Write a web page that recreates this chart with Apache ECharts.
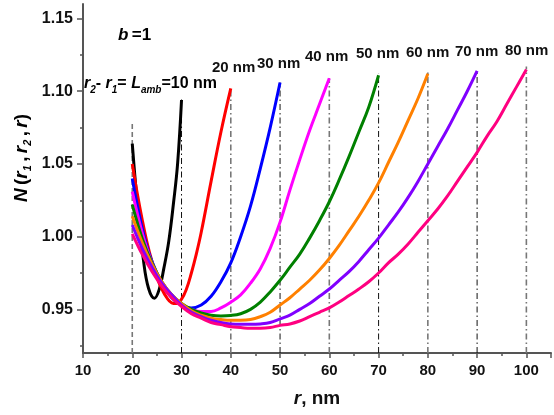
<!DOCTYPE html>
<html>
<head>
<meta charset="utf-8">
<script src="https://cdn.jsdelivr.net/npm/echarts@6/dist/echarts.min.js"></script>
<style>
  html, body { margin: 0; padding: 0; background: #fff; }
  #main { width: 554px; height: 415px; }
</style>
</head>
<body>
<div id="main"></div>
<script>
// r values (nm) and N(r1, r2, r), one pair per L_amb
var r10 = [20, 21, 22.3, 23.3, 24.5, 25.5, 26.4, 27.4, 28.4, 29.2, 30];
var n10 = [1.064, 1.024, 0.983, 0.9645, 0.9576, 0.964, 0.978, 0.9966, 1.024, 1.050, 1.094];

var r20 = [20, 21, 22, 23, 24, 25, 26, 27, 28, 29, 30, 31, 32, 33, 34, 36, 38, 40];
var n20 = [1.050, 1.030, 1.012, 0.996, 0.983, 0.972, 0.964, 0.958, 0.9545, 0.954, 0.957, 0.964, 0.975, 0.988, 1.003, 1.038, 1.072, 1.102];

var r30 = [20, 21, 22, 23, 24, 26, 28, 30, 32, 34, 36, 38, 40, 42, 44, 46, 48, 50];
var n30 = [1.040, 1.022, 1.006, 0.993, 0.983, 0.968, 0.958, 0.953, 0.951, 0.953, 0.959, 0.969, 0.982, 1.000, 1.021, 1.047, 1.075, 1.106];

var r40 = [20, 22, 24, 26, 28, 30, 32, 34, 36, 38, 40, 42, 44, 46, 48, 50, 52, 54, 56, 58, 60];
var n40 = [1.031, 1.003, 0.982, 0.968, 0.959, 0.953, 0.950, 0.9485, 0.9485, 0.951, 0.955, 0.960, 0.968, 0.978, 0.992, 1.010, 1.032, 1.053, 1.073, 1.091, 1.109];

var r50 = [20, 22, 24, 26, 28, 30, 32, 34, 36, 38, 40, 42, 44, 46, 48, 50, 52, 54, 56, 58, 60, 62, 64, 66, 68, 70];
var n50 = [1.022, 0.999, 0.982, 0.969, 0.960, 0.954, 0.950, 0.9475, 0.946, 0.9455, 0.9458, 0.947, 0.950, 0.955, 0.962, 0.970, 0.979, 0.988, 0.999, 1.011, 1.024, 1.039, 1.055, 1.072, 1.089, 1.111];

var r60 = [20, 22, 24, 26, 28, 30, 32, 34, 36, 38, 40, 42, 44, 46, 48, 50, 52, 54, 56, 58, 60, 62, 64, 66, 68, 70, 72, 74, 76, 78, 80];
var n60 = [1.014, 0.996, 0.981, 0.969, 0.960, 0.954, 0.949, 0.946, 0.944, 0.943, 0.9425, 0.9425, 0.943, 0.945, 0.948, 0.953, 0.958, 0.964, 0.970, 0.977, 0.985, 0.994, 1.004, 1.014, 1.025, 1.037, 1.051, 1.065, 1.080, 1.095, 1.112];

var r70 = [20, 22, 24, 26, 28, 30, 32, 34, 36, 38, 40, 42, 44, 46, 48, 50, 52, 54, 56, 58, 60, 62, 64, 66, 68, 70, 72, 74, 76, 78, 80, 82, 84, 86, 88, 90];
var n70 = [1.008, 0.992, 0.979, 0.968, 0.960, 0.953, 0.948, 0.945, 0.9425, 0.941, 0.940, 0.9397, 0.9397, 0.940, 0.941, 0.9435, 0.946, 0.950, 0.954, 0.959, 0.964, 0.970, 0.976, 0.983, 0.991, 0.999, 1.008, 1.017, 1.027, 1.038, 1.050, 1.062, 1.074, 1.087, 1.100, 1.114];

var r80 = [20, 22, 24, 26, 28, 30, 32, 34, 36, 38, 40, 42, 44, 46, 48, 50, 52, 54, 56, 58, 60, 62, 64, 66, 68, 70, 72, 74, 76, 78, 80, 82, 84, 86, 88, 90, 92, 94, 96, 98, 100];
var n80 = [1.002, 0.988, 0.976, 0.966, 0.958, 0.952, 0.947, 0.944, 0.941, 0.9395, 0.938, 0.9375, 0.937, 0.937, 0.9375, 0.939, 0.940, 0.942, 0.945, 0.948, 0.951, 0.955, 0.9595, 0.964, 0.969, 0.975, 0.982, 0.988, 0.995, 1.003, 1.011, 1.019, 1.028, 1.038, 1.048, 1.058, 1.069, 1.079, 1.091, 1.103, 1.115];

var curveColors = ['#000000', '#ff0000', '#0000ff', '#ff00ff', '#008000', '#ff8000', '#8000ff', '#ff0080'];
var curveR = [r10, r20, r30, r40, r50, r60, r70, r80];
var curveN = [n10, n20, n30, n40, n50, n60, n70, n80];

// dash-dot guide lines at r, drawn from the bottom up to the curve ends
var guideR = [20, 30, 40, 50, 60, 70, 80, 90, 100];
var guideTop = [1.078, 1.095, 1.102, 1.106, 1.109, 1.112, 1.113, 1.114, 1.117];

var yTicks = [0.95, 1.00, 1.05, 1.10, 1.15];
var yMinorTicks = [0.925, 0.975, 1.025, 1.075, 1.125];

var FONT = '"Liberation Sans", Arial, sans-serif';

var myChart = echarts.init(document.getElementById('main'));

var series = [];
guideR.forEach(function (x, i) {
  var grey = i % 2 === 0;
  series.push({
    type: 'line',
    silent: true,
    symbol: 'none',
    z: 1,
    data: [[x, 0.92], [x, guideTop[i]]],
    lineStyle: {
      color: grey ? '#777' : '#111',
      width: grey ? 1.6 : 1,
      type: i === 0 ? [5, 3] : [6, 3, 1.5, 3]
    }
  });
});
curveR.forEach(function (rs, k) {
  series.push({
    type: 'line',
    symbol: 'none',
    smooth: 0.4,
    z: 3 + k,
    data: rs.map(function (r, j) { return [r, curveN[k][j]]; }),
    lineStyle: { color: curveColors[k], width: 3 }
  });
});

var labelStyle = { fontFamily: FONT, fontWeight: 'bold', fontSize: 15, fill: '#111' };
function nmLabel(text, x, y) {
  return {
    type: 'text', x: x, y: y,
    style: Object.assign({ text: text, textVerticalAlign: 'middle' }, labelStyle)
  };
}

var option = {
  animation: false,
  grid: { left: 83, right: 3, top: 4, bottom: 62 },
  xAxis: {
    type: 'value',
    min: 10,
    max: 105,
    interval: 10,
    name: '{i|r}, nm',
    nameLocation: 'middle',
    nameGap: 36,
    nameTextStyle: {
      fontFamily: FONT, fontWeight: 'bold', fontSize: 19, color: '#111',
      rich: { i: { fontFamily: FONT, fontWeight: 'bold', fontStyle: 'italic', fontSize: 19, color: '#111' } }
    },
    axisLine: { lineStyle: { color: '#555', width: 2 } },
    axisTick: { inside: false, length: 5, lineStyle: { color: '#555', width: 1.5 } },
    minorTick: { show: true, splitNumber: 2, length: 3, lineStyle: { color: '#555', width: 1.5 } },
    axisLabel: {
      fontFamily: FONT, fontWeight: 'bold', fontSize: 15, color: '#111', margin: 10,
      showMaxLabel: false
    },
    splitLine: { show: false }
  },
  yAxis: [{
    type: 'value',
    min: 0.92,
    max: 1.16,
    axisLine: { show: true, lineStyle: { color: '#555', width: 2 } },
    axisTick: { show: true, length: 6, customValues: yTicks, lineStyle: { color: '#555', width: 1.5 } },
    axisLabel: {
      customValues: yTicks,
      formatter: function (v) { return v.toFixed(2); },
      fontFamily: FONT, fontWeight: 'bold', fontSize: 16, color: '#111', margin: 10
    },
    splitLine: { show: false }
  }, {
    type: 'value',
    position: 'left',
    min: 0.92,
    max: 1.16,
    axisLine: { show: false },
    axisTick: { show: true, length: 3, customValues: yMinorTicks, lineStyle: { color: '#555', width: 1.5 } },
    axisLabel: { show: false },
    splitLine: { show: false }
  }],
  series: series,
  graphic: [
    {
      type: 'text', x: 22, y: 158, rotation: Math.PI / 2,
      style: {
        text: '{b|N} {n|(}{i|r}{s|1} {n|,} {i|r}{s|2} {n|,} {i|r}{n|)}',
        align: 'center', verticalAlign: 'middle',
        rich: {
          b: { fontFamily: FONT, fontWeight: 'bold', fontStyle: 'italic', fontSize: 19, lineHeight: 22, verticalAlign: 'middle' },
          n: { fontFamily: FONT, fontWeight: 'bold', fontSize: 19, lineHeight: 22, verticalAlign: 'middle' },
          i: { fontFamily: FONT, fontWeight: 'bold', fontStyle: 'italic', fontSize: 19, lineHeight: 22, verticalAlign: 'middle' },
          s: { fontFamily: FONT, fontWeight: 'bold', fontStyle: 'italic', fontSize: 11, lineHeight: 22, verticalAlign: 'bottom' }
        }
      }
    },
    {
      type: 'text', x: 118, y: 35,
      style: {
        text: '{i|b} {n|=1}',
        verticalAlign: 'middle',
        rich: {
          i: { fontFamily: FONT, fontWeight: 'bold', fontStyle: 'italic', fontSize: 17 },
          n: { fontFamily: FONT, fontWeight: 'bold', fontSize: 17 }
        }
      }
    },
    {
      type: 'text', x: 84, y: 84,
      style: {
        text: '{i|r}{s|2}{n|- }{i|r}{s|1}{n|= }{i|L}{s|amb}{n|=10 nm}',
        verticalAlign: 'middle',
        rich: {
          i: { fontFamily: FONT, fontWeight: 'bold', fontStyle: 'italic', fontSize: 16, lineHeight: 22, verticalAlign: 'middle' },
          n: { fontFamily: FONT, fontWeight: 'bold', fontSize: 16, lineHeight: 22, verticalAlign: 'middle' },
          s: { fontFamily: FONT, fontWeight: 'bold', fontStyle: 'italic', fontSize: 10, lineHeight: 22, verticalAlign: 'bottom' }
        }
      }
    },
    nmLabel('20 nm', 212, 68),
    nmLabel('30 nm', 257, 64),
    nmLabel('40 nm', 305, 57),
    nmLabel('50 nm', 356, 54),
    nmLabel('60 nm', 406, 53),
    nmLabel('70 nm', 455, 52),
    nmLabel('80 nm', 505, 51)
  ]
};

myChart.setOption(option);
</script>
</body>
</html>
